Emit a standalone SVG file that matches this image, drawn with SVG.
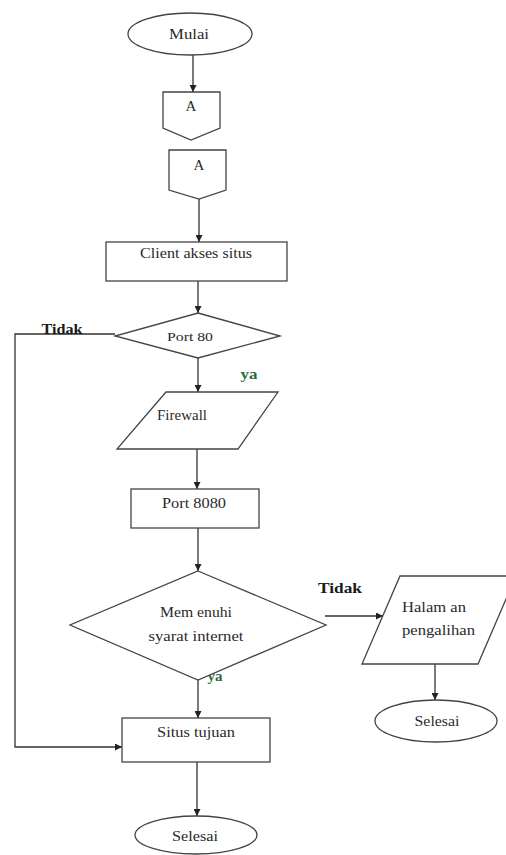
<svg xmlns="http://www.w3.org/2000/svg" width="506" height="855" viewBox="0 0 506 855">
<style>
.s{fill:#fff;stroke:#444;stroke-width:1.3}
.t{font-family:"Liberation Serif","Times New Roman",serif;font-size:15px;fill:#2a2a2a;text-anchor:middle}
.l{text-anchor:start}
.b{font-weight:bold;fill:#1a1a1a}
.g{font-weight:bold;fill:#2f6a3c}
.c{fill:none;stroke:#333;stroke-width:1.3}
</style>
<defs>
<marker id="ar" viewBox="0 0 10 10" refX="10" refY="5" markerWidth="7" markerHeight="7" markerUnits="userSpaceOnUse" orient="auto">
<path d="M0,0 L10,5 L0,10 z" fill="#222"/>
</marker>
</defs>
<rect width="506" height="855" fill="#fff"/>
<g id="connectors">
<line class="c" x1="193" y1="55" x2="193" y2="92" marker-end="url(#ar)"/>
<line class="c" x1="199" y1="199" x2="199" y2="242" marker-end="url(#ar)"/>
<line class="c" x1="198" y1="281" x2="198" y2="313" marker-end="url(#ar)"/>
<polyline class="c" points="115,334 15,334 15,747 122,747" marker-end="url(#ar)"/>
<line class="c" x1="198" y1="358" x2="198" y2="392" marker-end="url(#ar)"/>
<line class="c" x1="197" y1="449" x2="197" y2="489" marker-end="url(#ar)"/>
<line class="c" x1="198" y1="528" x2="198" y2="571" marker-end="url(#ar)"/>
<line class="c" x1="325" y1="616" x2="383" y2="616" marker-end="url(#ar)"/>
<line class="c" x1="198" y1="663" x2="198" y2="718" marker-end="url(#ar)"/>
<line class="c" x1="435" y1="664" x2="435" y2="700" marker-end="url(#ar)"/>
<line class="c" x1="197" y1="762" x2="197" y2="816" marker-end="url(#ar)"/>
<text class="t b" x="62" y="334" textLength="41" lengthAdjust="spacingAndGlyphs">Tidak</text>
<text class="t g" x="249" y="379" textLength="17" lengthAdjust="spacingAndGlyphs">ya</text>
<text class="t g" x="215" y="681" textLength="15" lengthAdjust="spacingAndGlyphs">ya</text>
<text class="t b" x="340" y="593" textLength="44" lengthAdjust="spacingAndGlyphs">Tidak</text>
</g>
<g id="mulai">
<ellipse class="s" cx="190" cy="34" rx="62" ry="21"/>
<text class="t" x="189" y="39" textLength="40" lengthAdjust="spacingAndGlyphs">Mulai</text>
</g>
<g id="a1">
<path class="s" d="M163,92 H220 V128 L191,140 L163,128 Z"/>
<text class="t" x="191" y="111">A</text>
</g>
<g id="a2">
<path class="s" d="M169,150 H226 V190 L199,199 L169,190 Z"/>
<text class="t" x="199" y="170">A</text>
</g>
<g id="client">
<rect class="s" x="106" y="242" width="181" height="39"/>
<text class="t" x="196" y="258" textLength="112" lengthAdjust="spacingAndGlyphs">Client akses situs</text>
</g>
<g id="port80">
<path class="s" d="M198,313 L280,336 L198,358 L115,336 Z"/>
<text class="t" x="190" y="341" textLength="46" lengthAdjust="spacingAndGlyphs" style="font-size:13px">Port 80</text>
</g>
<g id="firewall">
<path class="s" d="M166,392 H278 L238,449 H117 Z"/>
<text class="t" x="182" y="420" textLength="50" lengthAdjust="spacingAndGlyphs">Firewall</text>
</g>
<g id="port8080">
<rect class="s" x="131" y="489" width="128" height="39"/>
<text class="t" x="194" y="508" textLength="64" lengthAdjust="spacingAndGlyphs">Port 8080</text>
</g>
<g id="syarat">
<path class="s" d="M198,571 L326,625 L198,680 L70,625 Z"/>
<text class="t" x="196" y="617" textLength="72" lengthAdjust="spacingAndGlyphs">Mem enuhi</text>
<text class="t" x="196" y="641" textLength="95" lengthAdjust="spacingAndGlyphs">syarat internet</text>
</g>
<g id="halaman">
<path class="s" d="M400,576 H516 L478,664 H362 Z"/>
<text class="t l" x="402" y="612" textLength="64" lengthAdjust="spacingAndGlyphs">Halam an</text>
<text class="t l" x="402" y="635" textLength="73" lengthAdjust="spacingAndGlyphs">pengalihan</text>
</g>
<g id="selesai2">
<ellipse class="s" cx="436" cy="721" rx="61" ry="21"/>
<text class="t" x="437" y="726" textLength="45" lengthAdjust="spacingAndGlyphs">Selesai</text>
</g>
<g id="situs">
<rect class="s" x="122" y="718" width="148" height="44"/>
<text class="t" x="196" y="737" textLength="78" lengthAdjust="spacingAndGlyphs">Situs tujuan</text>
</g>
<g id="selesai">
<ellipse class="s" cx="196" cy="835" rx="61" ry="19"/>
<text class="t" x="195" y="841" textLength="46" lengthAdjust="spacingAndGlyphs">Selesai</text>
</g>
</svg>
